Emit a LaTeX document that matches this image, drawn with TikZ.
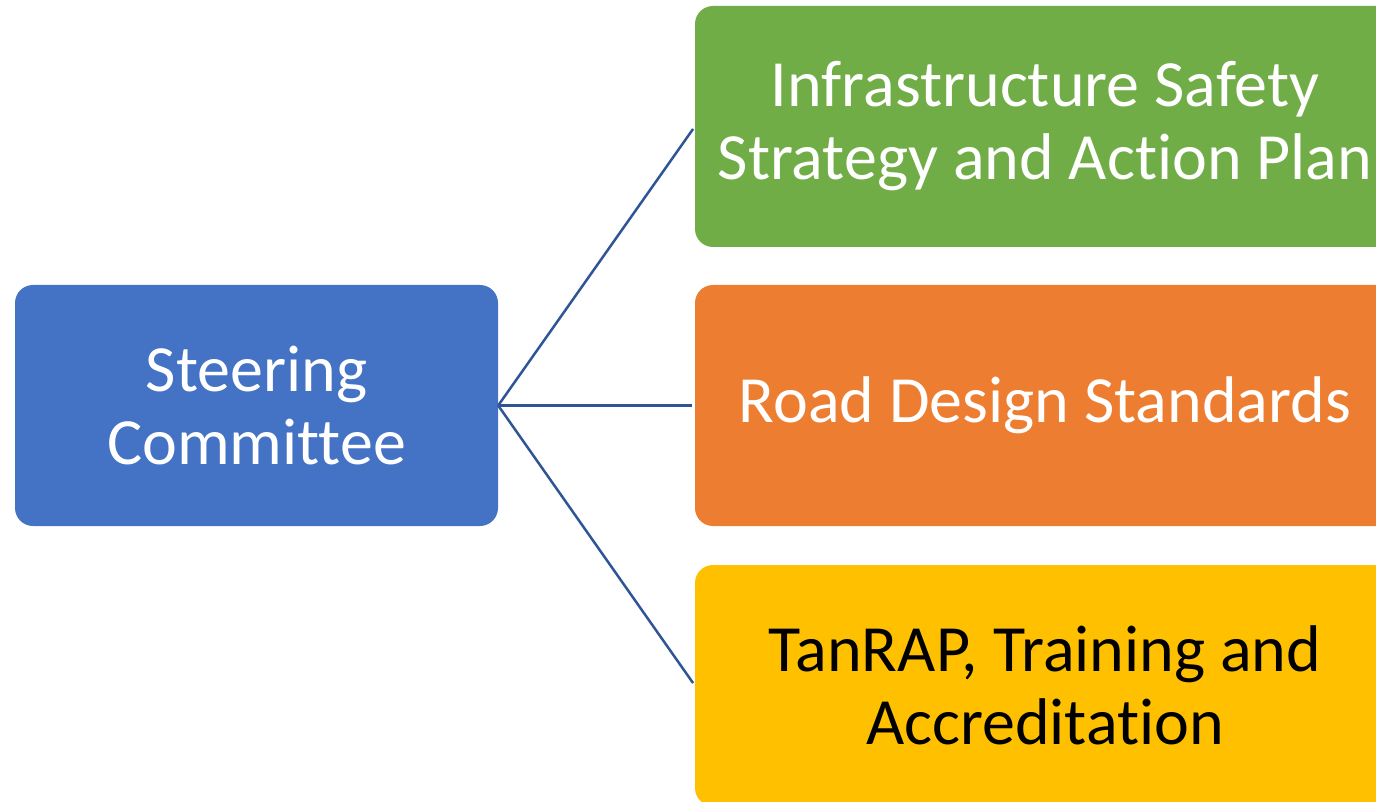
\documentclass[tikz,border=0pt]{standalone}
\usepackage{fontspec}
\setmainfont[Ligatures=NoCommon,RawFeature=-liga]{Carlito}
\usetikzlibrary{positioning}
\definecolor{steerblue}{RGB}{68,114,196}
\definecolor{infragreen}{RGB}{112,173,71}
\definecolor{roadorange}{RGB}{237,125,49}
\definecolor{tanyellow}{RGB}{255,192,0}
\definecolor{linkblue}{RGB}{47,85,151}
\begin{document}
\begin{tikzpicture}[x=1pt,y=1pt,yscale=-1,xscale=1,
  tilebox/.style={rounded corners=18pt,minimum height=241pt,inner sep=0pt,align=flush center,
    font=\fontsize{66}{73}\selectfont,text=white},
  linkline/.style={draw=linkblue,line width=2.5pt,shorten >=3pt}]
%set diagram to 1376 x 802
\useasboundingbox (0,0) rectangle (1376,802);
\clip (0,0) rectangle (1376,802);

%Shape: Rounded Rectangle [steering]
\node [tilebox,fill=steerblue,minimum width=483pt,text width=470pt] (steer) at (256.5,405.5) {Steering\\Committee};
%Shape: Rounded Rectangle [infrastructure]
\node [tilebox,fill=infragreen,minimum width=700pt,text width=690pt] (infra) at (1045,126.5) {Infrastructure Safety\\Strategy and Action Plan};
%Shape: Rounded Rectangle [road design]
\node [tilebox,fill=roadorange,minimum width=700pt,text width=690pt] (road) at (1045,405.5) {Road Design Standards};
%Shape: Rounded Rectangle [tanrap]
\node [tilebox,fill=tanyellow,minimum width=700pt,text width=690pt,text=black] (tanrap) at (1045,685.5) {TanRAP, Training and\\Accreditation};

%Straight Lines
\draw [linkline] (steer.east) -- (infra.west);
\draw [linkline] (steer.east) -- (road.west);
\draw [linkline] (steer.east) -- (tanrap.west);

\end{tikzpicture}
\end{document}
